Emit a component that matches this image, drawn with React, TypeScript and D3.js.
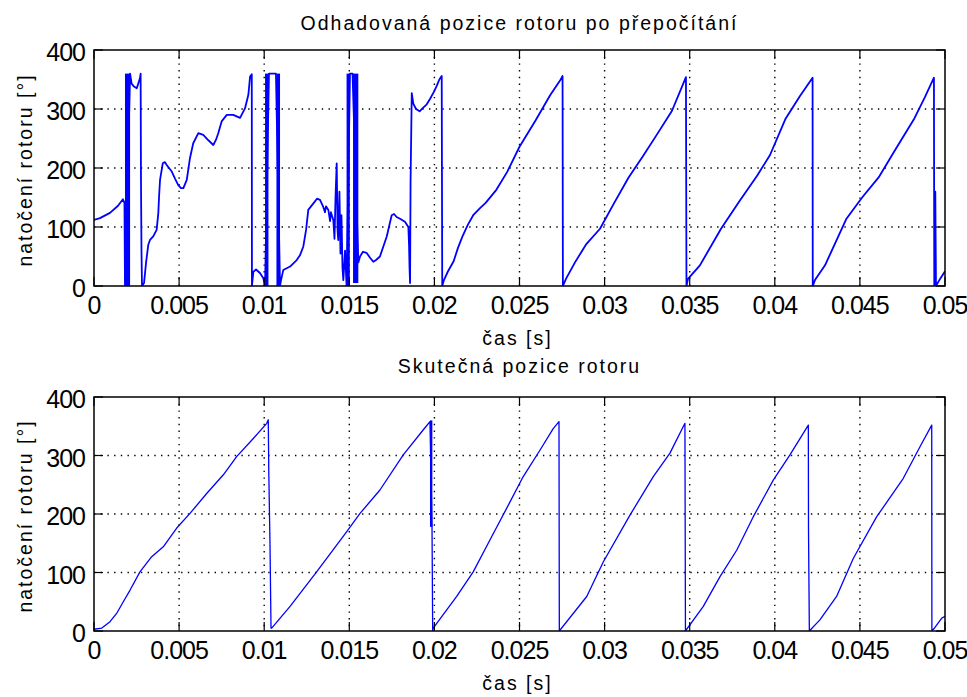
import React from 'react';
import * as d3 from 'd3';

const W = 967;
const H = 697;

// x axis: time [s]
const timeTicks = [0, 0.005, 0.01, 0.015, 0.02, 0.025, 0.03, 0.035, 0.04, 0.045, 0.05];
const timeTickLabels = ['0', '0.005', '0.01', '0.015', '0.02', '0.025', '0.03', '0.035', '0.04', '0.045', '0.05'];
// y axis: rotor angle [deg]
const angleTicks = [0, 100, 200, 300, 400];
const angleTickLabels = ['0', '100', '200', '300', '400'];

// estimated rotor position after recalculation: [time, angle]
const estimatedPosition: [number, number][] = [
  [0, 112], [0.00035, 115], [0.00094, 124], [0.00141, 136], [0.0017, 147], [0.00179, 141],
  [0.00182, 0], [0.00212, 360], [0.00221, 343], [0.00235, 338], [0.00251, 335], [0.0027, 352],
  [0.00274, 360], [0.00276, 180], [0.00279, 60], [0.00282, 0], [0.00294, 5], [0.00306, 40],
  [0.00319, 70], [0.00329, 78], [0.00348, 84], [0.00368, 95], [0.00378, 124], [0.00382, 150],
  [0.00388, 180], [0.00404, 208], [0.00417, 210], [0.00427, 205], [0.00457, 194], [0.00476, 182],
  [0.00495, 171], [0.00511, 166], [0.00525, 166], [0.00545, 180], [0.00564, 217], [0.00583, 242],
  [0.00613, 259], [0.00642, 256], [0.00672, 247], [0.00701, 239], [0.00717, 248], [0.0073, 259],
  [0.0075, 279], [0.0078, 290], [0.00818, 290], [0.00858, 285], [0.00887, 301], [0.00907, 324],
  [0.00917, 355], [0.00927, 359], [0.00928, 0], [0.00936, 24], [0.00952, 28], [0.00975, 22],
  [0.00995, 13], [0.01005, 0], [0.01028, 360], [0.01069, 360], [0.01093, 0], [0.01099, 10],
  [0.01112, 27], [0.01152, 33], [0.01191, 44], [0.0121, 52], [0.0123, 67], [0.01246, 95],
  [0.01259, 129], [0.01289, 140], [0.0131, 148], [0.01328, 146], [0.01347, 134], [0.01357, 125],
  [0.01363, 135], [0.01377, 129], [0.01387, 110], [0.01392, 125], [0.01406, 112], [0.01413, 80],
  [0.01419, 150], [0.01426, 208], [0.01431, 95], [0.01435, 78], [0.01442, 160], [0.01448, 55],
  [0.01454, 120], [0.0146, 30], [0.01465, 10], [0.01475, 60], [0.01484, 0], [0.01504, 360],
  [0.01519, 360], [0.01553, 40], [0.01563, 50], [0.0158, 58], [0.01602, 56], [0.01622, 48],
  [0.01641, 41], [0.01657, 44], [0.0168, 50], [0.0172, 84], [0.01749, 120], [0.01763, 122],
  [0.01778, 117], [0.01798, 114], [0.01827, 109], [0.01847, 100], [0.01851, 70], [0.01854, 30],
  [0.01857, 5], [0.0186, 177], [0.01867, 327], [0.01876, 309], [0.01892, 300], [0.01913, 296],
  [0.01933, 302], [0.01955, 308], [0.01974, 317], [0.01997, 329], [0.02015, 340], [0.02029, 350],
  [0.02043, 356], [0.02046, 0], [0.02056, 10], [0.0208, 25], [0.02113, 42], [0.02139, 65],
  [0.02165, 84], [0.02197, 104], [0.02228, 120], [0.02268, 132], [0.02301, 141], [0.02364, 163],
  [0.02427, 193], [0.025, 236], [0.02595, 281], [0.02679, 323], [0.02742, 350], [0.02753, 356],
  [0.02755, 0], [0.02773, 12], [0.02826, 40], [0.0289, 70], [0.02973, 97], [0.03055, 140],
  [0.03141, 184], [0.03225, 220], [0.03308, 257], [0.03396, 297], [0.03478, 354], [0.03481, 0],
  [0.0349, 12], [0.0356, 35], [0.03684, 97], [0.03795, 145], [0.03896, 187], [0.03972, 222],
  [0.04064, 284], [0.04148, 322], [0.04222, 353], [0.04223, 0], [0.04236, 10], [0.04295, 35],
  [0.04421, 114], [0.04513, 150], [0.0461, 184], [0.04706, 230], [0.0482, 284], [0.04882, 320],
  [0.04935, 353], [0.04937, 0], [0.04943, 160], [0.04947, 0], [0.04971, 12], [0.05, 25],
];

// dense switching regions of the estimate: [t0, t1, low, high]
const estimatedBursts: [number, number, number, number][] = [
  [0.00182, 0.00212, 0, 360],
  [0.01005, 0.01025, 0, 360],
  [0.01072, 0.01093, 0, 360],
  [0.01484, 0.01503, 0, 360],
  [0.01522, 0.01553, 5, 360],
];

// actual rotor position: [time, angle]
const actualPosition: [number, number][] = [
  [0, 3], [0.00046, 5], [0.00094, 16], [0.00133, 30], [0.00172, 50], [0.00212, 70],
  [0.0027, 101], [0.00339, 127], [0.00407, 144], [0.00486, 176], [0.00564, 201], [0.00662, 235],
  [0.0076, 267], [0.00838, 298], [0.00936, 329], [0.01015, 355], [0.01024, 361], [0.01027, 270],
  [0.01034, 150], [0.0104, 5], [0.01044, 5], [0.01152, 42], [0.01308, 101], [0.01485, 170],
  [0.01563, 201], [0.0168, 241], [0.01817, 301], [0.01935, 344], [0.01974, 358], [0.01986, 178],
  [0.0199, 0], [0.01993, 5], [0.02131, 59], [0.02228, 101], [0.02327, 156], [0.02425, 210],
  [0.02522, 264], [0.0262, 309], [0.02698, 346], [0.02732, 358], [0.02734, 0], [0.02895, 59],
  [0.02992, 118], [0.03149, 198], [0.03286, 264], [0.03384, 304], [0.03472, 355], [0.03475, 0],
  [0.0358, 42], [0.03678, 93], [0.03776, 138], [0.03873, 195], [0.03991, 258], [0.04089, 301],
  [0.04197, 352], [0.04198, 175], [0.04203, 0], [0.04265, 19], [0.04363, 59], [0.04461, 124],
  [0.04598, 195], [0.04755, 261], [0.04853, 315], [0.04922, 352], [0.04923, 0], [0.04941, 6],
  [0.04981, 22], [0.05, 25],
];

const actualBursts: [number, number, number, number][] = [
  [0.01974, 0.01988, 178, 360],
];

const tickFont = "'Liberation Sans', Arial, sans-serif";
const blue = '#0000ff';

type PanelProps = {
  id: string;
  top: number;
  bottom: number;
  title: string;
  titleY: number;
  series: [number, number][];
  bursts: [number, number, number, number][];
  lineWidth: number;
};

const Panel = ({ id, top, bottom, title, titleY, series, bursts, lineWidth }: PanelProps) => {
  const left = 94;
  const right = 945;
  const x = d3.scaleLinear().domain([0, 0.05]).range([left, right]);
  const y = d3.scaleLinear().domain([0, 400]).range([bottom, top]);
  const line = d3.line<[number, number]>().x(d => x(d[0])).y(d => y(d[1]));
  const tickLen = 9;

  return (
    <g>
      <defs>
        <clipPath id={`clip-${id}`}>
          <rect x={left} y={top} width={right - left} height={bottom - top} />
        </clipPath>
      </defs>
      <rect x={left} y={top} width={right - left} height={bottom - top} fill="#fff" />

      {/* dotted grid */}
      {timeTicks.slice(1, -1).map(t => (
        <line key={`gx${t}`} x1={x(t)} x2={x(t)} y1={top} y2={bottom}
          stroke="#000" strokeWidth={1.4} strokeDasharray="1.4 5.3" />
      ))}
      {angleTicks.slice(1, -1).map(v => (
        <line key={`gy${v}`} x1={left} x2={right} y1={y(v)} y2={y(v)}
          stroke="#000" strokeWidth={1.4} strokeDasharray="1.4 5.3" />
      ))}

      {/* data */}
      <g clipPath={`url(#clip-${id})`}>
        {bursts.map((b, i) => (
          <rect key={i} x={x(b[0])} width={x(b[1]) - x(b[0])} y={y(b[3])} height={y(b[2]) - y(b[3])} fill={blue} />
        ))}
        <path d={line(series) || ''} fill="none" stroke={blue} strokeWidth={lineWidth} strokeLinejoin="round" />
      </g>

      {/* box with inward ticks */}
      <rect x={left} y={top} width={right - left} height={bottom - top} fill="none" stroke="#000" strokeWidth={1.5} />
      {timeTicks.map(t => (
        <g key={`tx${t}`}>
          <line x1={x(t)} x2={x(t)} y1={bottom} y2={bottom - tickLen} stroke="#000" strokeWidth={1.2} />
          <line x1={x(t)} x2={x(t)} y1={top} y2={top + tickLen} stroke="#000" strokeWidth={1.2} />
        </g>
      ))}
      {angleTicks.map(v => (
        <g key={`ty${v}`}>
          <line x1={left} x2={left + tickLen} y1={y(v)} y2={y(v)} stroke="#000" strokeWidth={1.2} />
          <line x1={right} x2={right - tickLen} y1={y(v)} y2={y(v)} stroke="#000" strokeWidth={1.2} />
        </g>
      ))}

      {/* tick labels */}
      {timeTicks.map((t, i) => (
        <text key={`lx${t}`} x={x(t)} y={bottom + 28} textAnchor="middle"
          fontFamily={tickFont} fontSize={25} letterSpacing={-1}>{timeTickLabels[i]}</text>
      ))}
      {angleTicks.map((v, i) => (
        <text key={`ly${v}`} x={left - 9} y={y(v) + 11} textAnchor="end"
          fontFamily={tickFont} fontSize={25} letterSpacing={-1}>{angleTickLabels[i]}</text>
      ))}

      <text x={(left + right) / 2} y={titleY} textAnchor="middle" fontFamily={tickFont}
        fontSize={19.5} letterSpacing={2}>{title}</text>
      <text x={(left + right) / 2 - 2} y={bottom + 59} textAnchor="middle" fontFamily={tickFont}
        fontSize={19.5} letterSpacing={2}>čas [s]</text>
      <text transform={`translate(32,${(top + bottom) / 2 + 2}) rotate(-90)`} textAnchor="middle"
        fontFamily={tickFont} fontSize={19.5} letterSpacing={2}>natočení rotoru [°]</text>
    </g>
  );
};

export default function App() {
  return (
    <svg width={W} height={H} style={{ position: 'absolute', left: 0, top: 0, background: '#fff' }}>
      <rect width={W} height={H} fill="#fff" />
      <Panel id="est" top={50} bottom={286} title="Odhadovaná pozice rotoru po přepočítání" titleY={30}
        series={estimatedPosition} bursts={estimatedBursts} lineWidth={1.8} />
      <Panel id="act" top={397} bottom={631} title="Skutečná pozice rotoru" titleY={373}
        series={actualPosition} bursts={actualBursts} lineWidth={1.3} />
    </svg>
  );
}
